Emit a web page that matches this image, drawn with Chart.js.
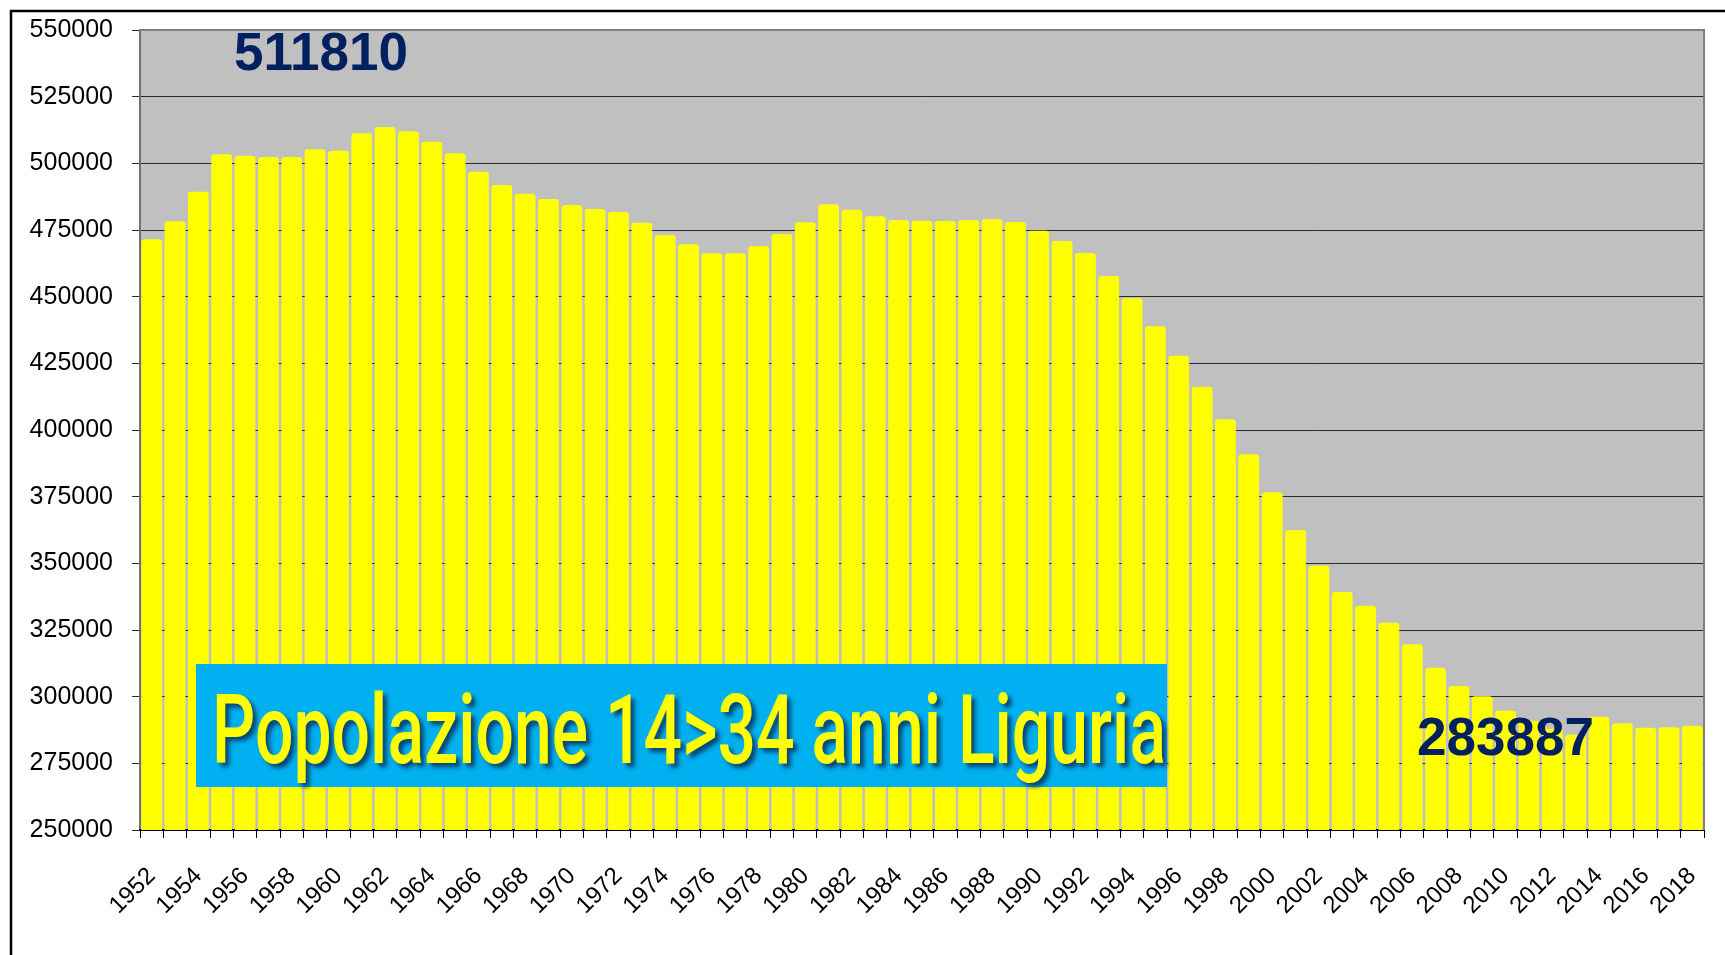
<!DOCTYPE html>
<html>
<head>
<meta charset="utf-8">
<script src="https://cdn.jsdelivr.net/npm/chart.js@4.4.1/dist/chart.umd.min.js"></script>
<style>
  html, body { margin: 0; padding: 0; background: #fff; }
  canvas { display: block; }
</style>
</head>
<body>
<canvas id="chart" width="1725" height="955"></canvas>
<script>
// Popolazione 14-34 anni, Liguria — yellow bars on grey plot

const years = [
  '1952', '1953', '1954', '1955', '1956', '1957', '1958', '1959', '1960', '1961',
  '1962', '1963', '1964', '1965', '1966', '1967', '1968', '1969', '1970', '1971',
  '1972', '1973', '1974', '1975', '1976', '1977', '1978', '1979', '1980', '1981',
  '1982', '1983', '1984', '1985', '1986', '1987', '1988', '1989', '1990', '1991',
  '1992', '1993', '1994', '1995', '1996', '1997', '1998', '1999', '2000', '2001',
  '2002', '2003', '2004', '2005', '2006', '2007', '2008', '2009', '2010', '2011',
  '2012', '2013', '2014', '2015', '2016', '2017', '2018'
];

const population = [
  471500, 478250, 489375, 503375, 502875, 502375, 502375, 505250, 504750, 511250,
  513625, 512000, 508125, 503750, 496875, 491875, 488625, 486625, 484375, 482875,
  481750, 477750, 473125, 469625, 466250, 466250, 468875, 473500, 477875, 484625,
  482625, 480125, 478750, 478500, 478375, 478750, 479125, 478000, 474750, 470875,
  466375, 457750, 449375, 438875, 427875, 416250, 404000, 390875, 376625, 362500,
  349125, 339250, 334125, 327750, 319625, 310875, 304000, 300125, 294750, 291000,
  288000, 285750, 292500, 290000, 288375, 288500, 289125
];

const yMin = 250000;
const yMax = 550000;
const yStep = 25000;

const maxLabel = '511810';
const minLabel = '283887';
const titleText = 'Popolazione 14>34 anni Liguria';

const FONT = "'Liberation Sans', Arial, sans-serif";

// grey plot background, outer frame, grey top/right plot edge
const chartFrame = {
  id: 'chartFrame',
  beforeDraw(chart) {
    const { ctx, chartArea: a } = chart;
    ctx.save();
    ctx.fillStyle = '#ffffff';
    ctx.fillRect(0, 0, chart.width, chart.height);
    ctx.fillStyle = '#c0c0c0';
    ctx.fillRect(a.left, a.top, a.right - a.left, a.bottom - a.top);
    ctx.restore();
  },
  afterDraw(chart) {
    const { ctx, chartArea: a } = chart;
    ctx.save();
    ctx.strokeStyle = '#808080';
    ctx.lineWidth = 2;
    ctx.beginPath();
    ctx.moveTo(a.left, a.top);
    ctx.lineTo(a.right, a.top);
    ctx.lineTo(a.right, a.bottom);
    ctx.stroke();

    ctx.strokeStyle = '#000000';
    ctx.lineWidth = 2.5;
    ctx.strokeRect(11, 11, chart.width + 100, chart.height + 100);
    ctx.restore();
  }
};

// the blue title box and the two navy value labels
const overlays = {
  id: 'overlays',
  afterDatasetsDraw(chart) {
    const { ctx, chartArea: a } = chart;
    ctx.save();

    ctx.fillStyle = '#00b0f0';
    ctx.fillRect(a.left + 56, 664, 971, 123);

    ctx.font = "500 96px Roboto, 'Liberation Sans', sans-serif";
    const w = ctx.measureText(titleText).width;
    ctx.translate(a.left + 72, 763);
    ctx.scale(954 / w, 1);
    ctx.shadowColor = 'rgba(10, 50, 90, 0.85)';
    ctx.shadowOffsetX = 4;
    ctx.shadowOffsetY = 4;
    ctx.shadowBlur = 4;
    ctx.fillStyle = '#ffff00';
    ctx.textBaseline = 'alphabetic';
    ctx.fillText(titleText, 0, 0);
    ctx.restore();

    ctx.save();
    ctx.fillStyle = '#002060';
    ctx.font = 'bold 53px ' + FONT;
    ctx.textBaseline = 'alphabetic';
    ctx.fillText(maxLabel, a.left + 94, 70);
    ctx.fillText(minLabel, a.left + 1277, 755);
    ctx.restore();
  }
};

new Chart(document.getElementById('chart').getContext('2d'), {
  type: 'bar',
  data: {
    labels: years,
    datasets: [{
      label: 'Popolazione 14-34',
      data: population,
      backgroundColor: '#ffff00',
      borderWidth: 0,
      borderRadius: { topLeft: 3, topRight: 3 },
      borderSkipped: 'bottom',
      barPercentage: 0.89,
      categoryPercentage: 1.0
    }]
  },
  options: {
    responsive: false,
    animation: false,
    devicePixelRatio: 1,
    layout: { padding: { top: 30, right: 21, left: 0, bottom: 0 } },
    plugins: {
      legend: { display: false },
      tooltip: { enabled: false }
    },
    scales: {
      y: {
        min: yMin,
        max: yMax,
        afterFit: (s) => {
          s.width = 140;
          s.paddingTop = 0;
          s.paddingBottom = 0;
        },
        ticks: {
          stepSize: yStep,
          color: '#000',
          padding: 19,
          font: { family: FONT, size: 25 },
          callback: (v) => String(v)
        },
        grid:   { color: '#2a2a2a', lineWidth: 1, tickLength: 8 },
        border: { color: '#707070', width: 2 }
      },
      x: {
        afterFit: (s) => {
          s.height = 125;
          s.paddingLeft = 0;
          s.paddingRight = 0;
        },
        ticks: {
          autoSkip: false,
          maxRotation: 45,
          minRotation: 45,
          color: '#000',
          padding: 24,
          font: { family: FONT, size: 24 },
          callback: (v, i) => (i % 2 === 0 ? years[i] : '')
        },
        grid:   { offset: true, drawOnChartArea: false, color: '#000', tickLength: 8 },
        border: { color: '#000', width: 2 }
      }
    }
  },
  plugins: [chartFrame, overlays]
});
</script>
</body>
</html>
